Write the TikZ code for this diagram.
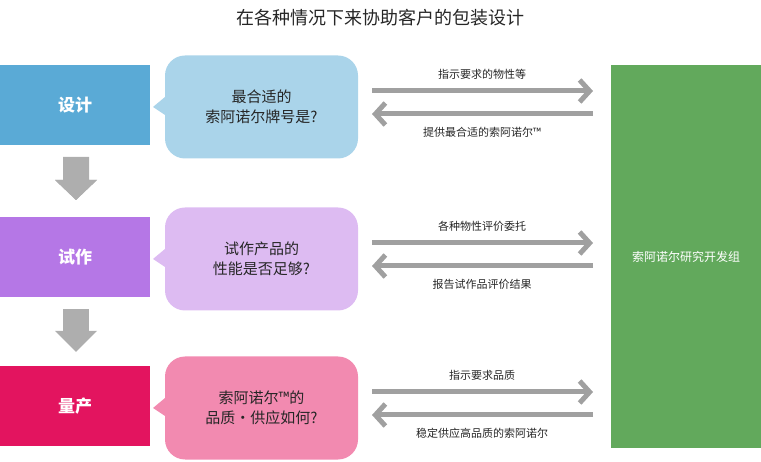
\documentclass[tikz,border=0pt]{standalone}
\usepackage{fontspec}
\newfontfamily\cjk{Noto Sans CJK SC}
\usetikzlibrary{arrows.meta}
\definecolor{cblue}{HTML}{5AAAD6}
\definecolor{cpurple}{HTML}{B577E6}
\definecolor{cpink}{HTML}{E3145F}
\definecolor{lblue}{HTML}{AAD4EA}
\definecolor{lpurple}{HTML}{DDBBF2}
\definecolor{lpink}{HTML}{F28AB0}
\definecolor{cgreen}{HTML}{62A95C}
\definecolor{agray}{HTML}{A0A0A0}
\begin{document}
\begin{tikzpicture}[x=1pt,y=-1pt,font=\cjk,
  stage/.style={minimum width=150pt,minimum height=80pt,inner sep=0pt,text=white,font=\cjk\fontsize{17}{20}\selectfont\bfseries},
  bubble/.style={rounded corners=20pt,minimum width=193pt,minimum height=103pt,inner sep=0pt,align=center,font=\cjk\fontsize{15}{20}\selectfont,text=black!85},
  flow/.style={draw=agray,line width=5pt,-{Straight Barb[length=10pt,width=22pt,line width=5pt]}},
  lbl/.style={font=\cjk\fontsize{11}{13}\selectfont,text=black!85},
  down/.style={fill=agray!85,draw=none}]
\useasboundingbox (0,0) rectangle (761,462);
\node[font=\cjk\fontsize{18}{22}\selectfont,text=black!85] (title) at (380,18) {在各种情况下来协助客户的包装设计};
\node[stage,fill=cgreen,minimum width=150pt,minimum height=383pt,font=\cjk\fontsize{12}{14}\selectfont] (lab) at (686,256.5) {索阿诺尔研究开发组};
\foreach \y/\c/\l/\s/\t/\a/\b in {
 105/cblue/lblue/设计/{最合适的\\索阿诺尔牌号是?}/指示要求的物性等/提供最合适的索阿诺尔™,
 257/cpurple/lpurple/试作/{试作产品的\\性能是否足够?}/各种物性评价委托/报告试作品评价结果,
 406/cpink/lpink/量产/{索阿诺尔™的\\品质・供应如何?}/指示要求品质/稳定供应高品质的索阿诺尔}{
  \node[stage,fill=\c] (s\y) at (75,\y) {\s};
  \fill[\l] (165,\y-8) -- (153,\y+2) -- (165,\y+10) -- cycle;
  \node[bubble,fill=\l] (b\y) at (261.5,\y+2) {\t};
  \coordinate (r1\y) at (372,\y-14);
  \coordinate (r2\y) at (593,\y-14);
  \coordinate (l1\y) at (593,\y+9);
  \coordinate (l2\y) at (372,\y+9);
  \draw[flow] (r1\y) -- (r2\y);
  \draw[flow] (l1\y) -- (l2\y);
  \node[lbl] (ta\y) at (482,\y-31) {\a};
  \node[lbl] (tb\y) at (482,\y+27) {\b};
}
\fill[down] (63,157) rectangle (89,180) -- (97,180) -- (76,200) -- (55,180) -- cycle;
\fill[down] (63,309) rectangle (89,331);
\fill[down] (55,331) -- (97,331) -- (76,352) -- cycle;
\fill[down] (55,180) -- (97,180) -- (76,200) -- cycle;
\end{tikzpicture}
\end{document}
